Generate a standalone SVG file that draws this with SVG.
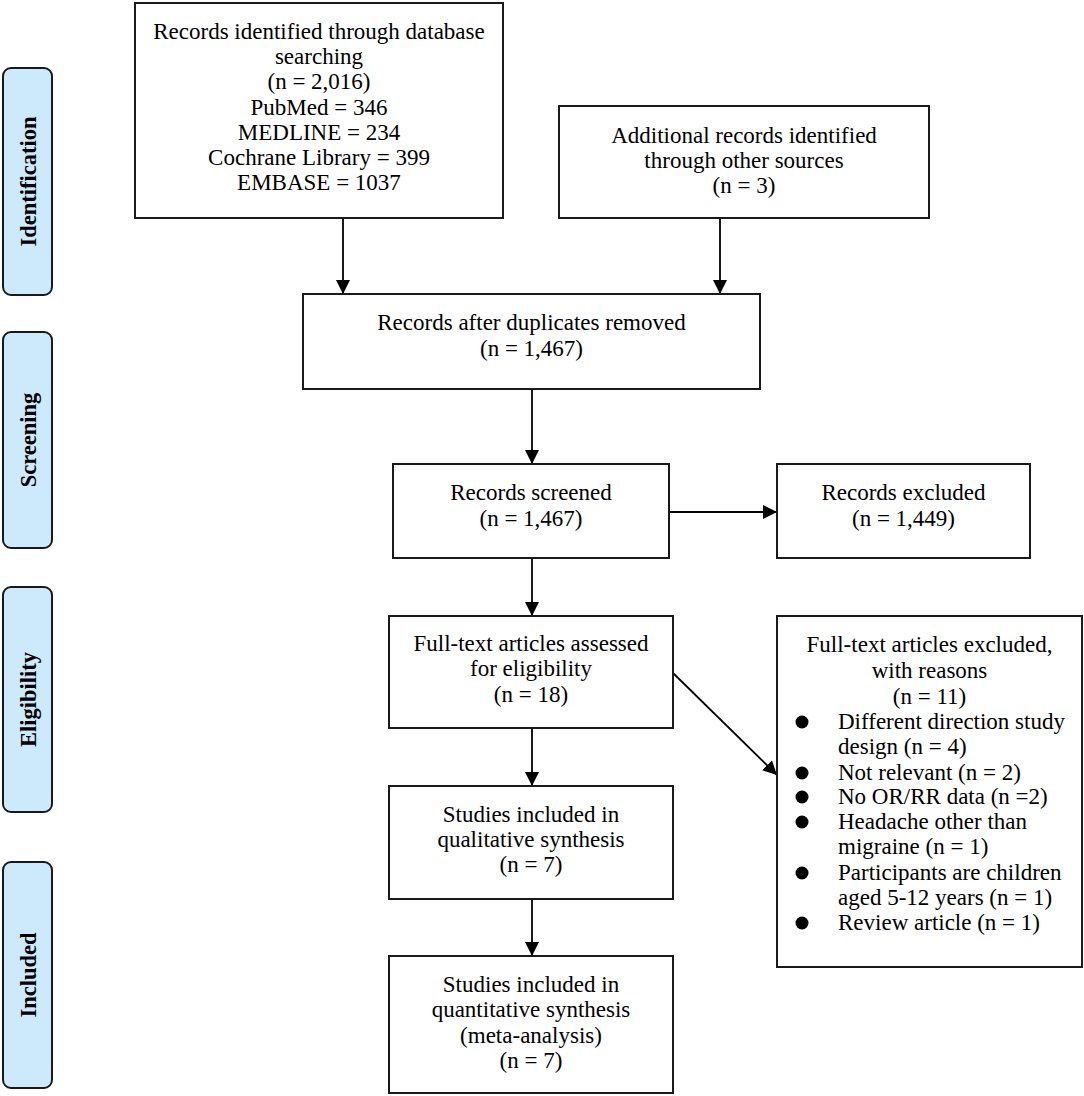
<svg xmlns="http://www.w3.org/2000/svg" width="1084" height="1096" viewBox="0 0 1084 1096">
<defs>
<marker id="ah" markerUnits="userSpaceOnUse" markerWidth="14" markerHeight="14" viewBox="0 0 12 12" refX="12" refY="6" orient="auto">
<path d="M0,0 L12,6 L0,12 Z" fill="#000"/>
</marker>
</defs>
<style>
.box{fill:#fff;stroke:#1a1a1a;stroke-width:2}
.stage{fill:#cdeafc;stroke:#1a1a1a;stroke-width:2}
.t{font-family:"Liberation Serif","Times New Roman",serif;font-size:23px;fill:#000;text-anchor:middle}
.tl{font-family:"Liberation Serif","Times New Roman",serif;font-size:23px;fill:#000;text-anchor:start}
.lab{font-family:"Liberation Serif","Times New Roman",serif;font-size:22.5px;font-weight:bold;fill:#000;text-anchor:middle}
.c{fill:none;stroke:#000;stroke-width:1.8;marker-end:url(#ah)}
</style>
<rect width="1084" height="1096" fill="#fff"/>

<g id="stage-identification">
<rect class="stage" x="3" y="68" width="49" height="227" rx="8"/>
<text class="lab" transform="translate(35.5,181.5) rotate(-90)">Identification</text>
</g>
<g id="stage-screening">
<rect class="stage" x="3" y="332" width="49" height="216" rx="8"/>
<text class="lab" transform="translate(35.5,440) rotate(-90)">Screening</text>
</g>
<g id="stage-eligibility">
<rect class="stage" x="3" y="587" width="49" height="225" rx="8"/>
<text class="lab" transform="translate(35.5,699.5) rotate(-90)">Eligibility</text>
</g>
<g id="stage-included">
<rect class="stage" x="3" y="862" width="49" height="226" rx="8"/>
<text class="lab" transform="translate(35.5,975) rotate(-90)">Included</text>
</g>

<g id="connectors">
<line class="c" x1="343" y1="218" x2="343" y2="294"/>
<line class="c" x1="720" y1="218" x2="720" y2="294"/>
<line class="c" x1="532" y1="389" x2="532" y2="464"/>
<line class="c" x1="669" y1="512" x2="777" y2="512"/>
<line class="c" x1="532" y1="558" x2="532" y2="616"/>
<line class="c" x1="673" y1="673" x2="777" y2="775"/>
<line class="c" x1="532" y1="728" x2="532" y2="786"/>
<line class="c" x1="532" y1="899" x2="532" y2="956"/>
</g>

<g id="n-database">
<rect class="box" x="135" y="3" width="368" height="215"/>
<text class="t" x="319" y="39">Records identified through database</text>
<text class="t" x="319" y="64">searching</text>
<text class="t" x="319" y="89">(n = 2,016)</text>
<text class="t" x="319" y="114.5">PubMed = 346</text>
<text class="t" x="319" y="140">MEDLINE = 234</text>
<text class="t" x="319" y="165">Cochrane Library = 399</text>
<text class="t" x="319" y="190">EMBASE = 1037</text>
</g>

<g id="n-other">
<rect class="box" x="559" y="106" width="370" height="112"/>
<text class="t" x="744" y="143">Additional records identified</text>
<text class="t" x="744" y="168">through other sources</text>
<text class="t" x="744" y="193">(n = 3)</text>
</g>

<g id="n-duplicates">
<rect class="box" x="303" y="294" width="457" height="95"/>
<text class="t" x="531.5" y="330">Records after duplicates removed</text>
<text class="t" x="531.5" y="356">(n = 1,467)</text>
</g>

<g id="n-screened">
<rect class="box" x="393" y="464" width="276" height="94"/>
<text class="t" x="531" y="500">Records screened</text>
<text class="t" x="531" y="526">(n = 1,467)</text>
</g>

<g id="n-excluded">
<rect class="box" x="777" y="464" width="253" height="94"/>
<text class="t" x="903.5" y="500">Records excluded</text>
<text class="t" x="903.5" y="526">(n = 1,449)</text>
</g>

<g id="n-fulltext">
<rect class="box" x="389" y="616" width="284" height="112"/>
<text class="t" x="531" y="651">Full-text articles assessed</text>
<text class="t" x="531" y="676">for eligibility</text>
<text class="t" x="531" y="702">(n = 18)</text>
</g>

<g id="n-fulltext-excluded">
<rect class="box" x="777" y="616" width="305" height="351"/>
<text class="t" x="929.5" y="652">Full-text articles excluded,</text>
<text class="t" x="929.5" y="678">with reasons</text>
<text class="t" x="929.5" y="704">(n = 11)</text>
<circle cx="802" cy="722" r="6.5"/>
<text class="tl" x="838" y="729">Different direction study</text>
<text class="tl" x="838" y="754">design (n = 4)</text>
<circle cx="802" cy="773" r="6.5"/>
<text class="tl" x="838" y="780">Not relevant (n = 2)</text>
<circle cx="802" cy="797" r="6.5"/>
<text class="tl" x="838" y="804">No OR/RR data (n =2)</text>
<circle cx="802" cy="822" r="6.5"/>
<text class="tl" x="838" y="829">Headache other than</text>
<text class="tl" x="838" y="854">migraine (n = 1)</text>
<circle cx="802" cy="873" r="6.5"/>
<text class="tl" x="838" y="880">Participants are children</text>
<text class="tl" x="838" y="905">aged 5-12 years (n = 1)</text>
<circle cx="802" cy="923" r="6.5"/>
<text class="tl" x="838" y="930">Review article (n = 1)</text>
</g>

<g id="n-qualitative">
<rect class="box" x="389" y="786" width="284" height="113"/>
<text class="t" x="531" y="822">Studies included in</text>
<text class="t" x="531" y="847">qualitative synthesis</text>
<text class="t" x="531" y="872">(n = 7)</text>
</g>

<g id="n-quantitative">
<rect class="box" x="389" y="956" width="284" height="137"/>
<text class="t" x="531" y="992">Studies included in</text>
<text class="t" x="531" y="1017">quantitative synthesis</text>
<text class="t" x="531" y="1043">(meta-analysis)</text>
<text class="t" x="531" y="1068">(n = 7)</text>
</g>
</svg>
